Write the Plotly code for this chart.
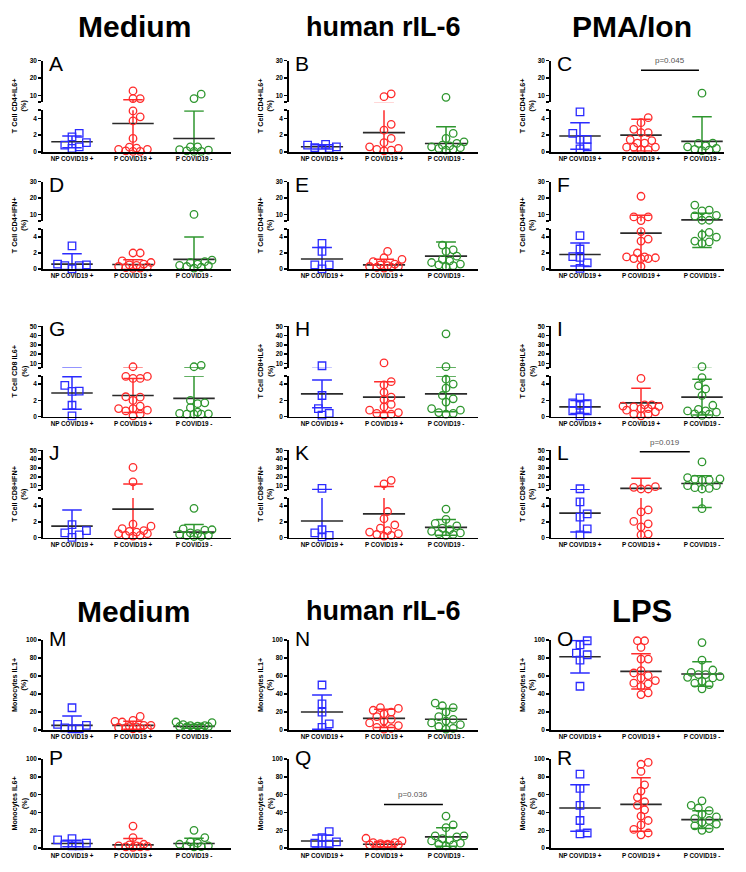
import plotly.graph_objects as go

W, H = 746, 872
GROUPS = ["NP COVID19 +", "P COVID19 +", "P COVID19 -"]
COLORS = ["#2b2bff", "#ff2b2b", "#2e962e"]
SYMBOLS = ["square-open", "circle-open", "circle-open"]
FONT = "Liberation Sans, Arial, sans-serif"

# ---------------- data ----------------
A_NP = [2.2, 1.8, 1.1, 0.8, 0.6, 0.4]
A_PP = [12.5, 8.1, 8.1, 4.9, 4.2, 3.7, 1.6, 0.55, 0.3, 0.1, 0.05, 0.05, 0.3, 0.45]
A_PN = [10.6, 8.1, 0.6, 0.25, 0.1, 0.05, 0.05, 0.2, 0.6]
A_MEAN = [1.2, 3.4, 1.6]
A_SD = [0.7, 4.0, 3.3]

B_NP = [0.9, 0.8, 0.6, 0.5, 0.4, 0.3]
B_PP = [10.8, 9.2, 3.3, 2.6, 1.6, 1.1, 0.6, 0.4, 0.2, 0.1, 0.3]
B_PN = [8.8, 2.2, 1.6, 1.2, 1.0, 0.8, 0.6, 0.5, 0.3, 0.2, 0.4, 0.7]
B_MEAN = [0.6, 2.3, 1.0]
B_SD = [0.25, 3.3, 2.0]

C_NP = [4.8, 2.2, 1.5, 1.5, 0.6, 0.35]
C_PP = [4.1, 3.5, 2.7, 2.3, 2.3, 1.35, 1.45, 1.05, 1.05, 0.55, 0.55, 0.25, 0.25, 0.55]
C_PN = [11.2, 1.05, 1.0, 0.6, 0.3, 0.15, 0.2, 0.4, 0.7]
C_MEAN = [1.9, 2.0, 1.25]
C_SD = [1.6, 1.9, 2.95]

D_NP = [2.9, 0.6, 0.4, 0.0, 0.4, 0.5]
D_PP = [2.0, 2.0, 1.0, 0.5, 0.25, 0.1, 0.05, 0.15, 0.3, 0.45, 0.6, 0.8]
D_PN = [10.1, 1.1, 0.9, 0.6, 0.4, 0.2, 0.1, 0.3, 0.45, 0.8]
D_MEAN = [0.6, 0.55, 1.2]
D_SD = [1.3, 0.6, 2.8]

E_NP = [3.2, 2.2, 0.5, 0.5, 0.0]
E_PP = [2.2, 1.4, 1.2, 0.9, 0.6, 0.4, 0.3, 0.2, 0.1, 0.2, 0.3, 0.5]
E_PN = [3.0, 2.4, 2.2, 1.6, 1.2, 1.0, 0.8, 0.6, 0.4, 0.3, 0.5]
E_MEAN = [1.25, 0.5, 1.6]
E_SD = [1.45, 0.7, 1.8]

F_NP = [4.2, 2.5, 1.55, 1.45, 0.75, 0.05]
F_PP = [21.1, 8.6, 8.6, 6.4, 4.7, 3.75, 3.5, 2.0, 1.3, 1.5, 1.3, 1.3, 1.4, 1.5, 0.3]
F_PN = [15.8, 12.7, 12.3, 9.6, 9.2, 6.6, 6.6, 4.6, 4.3, 4.0, 3.5, 3.4, 3.2]
F_MEAN = [1.8, 4.5, 6.8]
F_SD = [1.45, 5.1, 4.1]

G_NP = [3.85, 3.15, 3.1, 1.4, 0.1]
G_PP = [6.4, 4.95, 4.95, 4.7, 4.7, 2.0, 2.4, 2.45, 0.7, 1.0, 1.0, 0.8, 1.3, 0.1, 0.3]
G_PN = [6.4, 7.9, 1.7, 1.6, 2.0, 1.1, 0.4, 0.3, 0.3, 0.3, 0.35, 0.55]
G_MEAN = [2.9, 2.6, 2.25]
G_SD = [2.0, 2.1, 2.75]

H_NP = [7.5, 2.6, 1.0, 0.4, 0.2]
H_PP = [10.5, 4.3, 3.9, 3.0, 2.4, 2.1, 1.5, 1.2, 0.8, 0.5, 0.3, 0.2, 0.4]
H_PN = [42.0, 6.5, 4.6, 4.0, 3.5, 2.6, 2.2, 1.8, 1.0, 0.5, 0.3, 0.4, 0.8]
H_MEAN = [2.8, 2.4, 2.8]
H_SD = [1.7, 1.9, 2.2]

I_NP = [2.3, 1.7, 1.6, 1.4, 0.7, 0.7, 0.1]
I_PP = [4.7, 1.3, 1.45, 1.45, 1.25, 1.0, 1.0, 1.2, 0.8, 0.6, 0.3, 0.3, 0.1]
I_PN = [6.5, 4.8, 3.8, 3.4, 2.6, 1.4, 0.7, 0.55, 0.3, 0.15, 0.35, 0.7, 0.9]
I_MEAN = [1.2, 1.7, 2.4]
I_SD = [0.8, 1.8, 2.2]

J_NP = [1.65, 0.9, 0.6, 0.35, 0.05]
J_PP = [30.7, 14.4, 1.7, 1.45, 1.15, 0.8, 0.5, 0.3, 0.2, 0.3, 0.5, 0.7, 0.9]
J_PN = [3.7, 1.1, 1.0, 0.95, 0.6, 0.4, 0.25, 0.15, 0.15, 0.3, 0.5]
J_MEAN = [1.45, 3.6, 0.7]
J_SD = [2.05, 8.2, 0.95]

K_NP = [7.0, 1.0, 0.6, 0.3, 0.1]
K_PP = [16.0, 12.0, 3.3, 2.4, 1.6, 1.2, 0.9, 0.5, 0.3, 0.2, 0.4, 0.7]
K_PN = [3.6, 2.3, 1.8, 1.5, 1.2, 1.0, 0.8, 0.6, 0.4, 0.3, 0.5]
K_MEAN = [2.1, 3.0, 1.3]
K_SD = [3.6, 6.0, 1.0]

L_NP = [6.5, 4.5, 3.0, 2.6, 1.1, 0.35]
L_PP = [8.8, 6.2, 6.2, 8.1, 3.25, 3.5, 1.75, 2.05, 1.35, 0.35, 0.45]
L_PN = [36.9, 17.7, 16.5, 16.2, 17.3, 19.2, 10.0, 6.9, 6.2, 7.7, 10.0, 3.65]
L_MEAN = [3.1, 6.9, 12.5]
L_SD = [2.4, 11.6, 8.7]

M_NP = [24.8, 6.4, 5.3, 2.5, 1.5, 1.5]
M_PP = [15.2, 10.8, 9.7, 9.0, 5.3, 5.3, 4.0, 3.0, 2.5, 2.0, 1.5, 2.5, 3.5]
M_PN = [9.0, 8.3, 6.0, 5.0, 4.5, 4.0, 3.5, 3.0, 3.5, 4.0, 5.0]
M_MEAN = [5.3, 5.3, 4.2]
M_SD = [10.3, 4.4, 2.0]

N_NP = [50.0, 29.0, 20.0, 7.0, 3.0]
N_PP = [25.0, 24.0, 22.0, 20.0, 18.0, 15.0, 12.0, 10.0, 8.0, 5.0, 3.0, 2.0, 1.0]
N_PN = [30.0, 27.0, 25.0, 20.0, 15.0, 12.0, 10.0, 8.0, 6.0, 4.0, 2.0, 1.0]
N_MEAN = [20.0, 13.0, 12.0]
N_SD = [19.0, 10.0, 12.0]

O_NP = [99.0, 94.5, 83.5, 85.3, 77.6, 48.6]
O_PP = [99.0, 99.0, 91.6, 78.7, 78.7, 65.9, 63.3, 60.4, 57.8, 54.9, 52.0, 51.3, 48.4, 41.3, 39.4]
O_PN = [97.0, 77.6, 64.0, 66.6, 61.5, 61.5, 59.3, 57.8, 58.5, 54.1, 52.0, 50.5, 45.7]
O_MEAN = [81.3, 65.1, 62.2]
O_SD = [18.0, 19.5, 13.6]

P_NP = [9.3, 10.7, 5.6, 2.6, 2.6, 3.7]
P_PP = [24.8, 11.9, 4.4, 3.7, 2.5, 1.5, 1.0, 1.5, 2.0, 2.5]
P_PN = [20.0, 11.9, 7.0, 5.6, 4.4, 2.6, 1.8, 1.5, 2.6]
P_MEAN = [5.2, 3.7, 5.2]
P_SD = [3.7, 7.0, 5.9]

Q_NP = [18.5, 7.0, 11.9, 5.6, 3.7, 4.4]
Q_PP = [11.1, 8.1, 6.3, 6.3, 3.7, 2.6, 2.6, 3.7, 4.4, 2.6, 5.2]
Q_PN = [36.0, 26.0, 23.0, 12.6, 10.7, 13.7, 13.7, 8.9, 8.1, 5.6, 4.4, 2.6, 3.7]
Q_MEAN = [8.1, 4.4, 12.6]
Q_SD = [6.7, 3.0, 10.4]

R_NP = [83.0, 67.0, 48.0, 31.0, 17.0, 16.0]
R_PP = [96.0, 94.0, 86.0, 71.0, 64.0, 57.0, 52.0, 48.0, 43.0, 36.0, 31.0, 26.0, 21.0, 17.0, 15.0]
R_PN = [53.0, 48.0, 45.0, 42.0, 38.0, 35.0, 33.0, 31.0, 29.0, 27.0, 25.0, 22.0, 20.0]
R_MEAN = [45.0, 49.0, 32.0]
R_SD = [26.0, 30.0, 10.0]

# p-value brackets: (panel, from group, to group, y value, label)
PVALS = [("C", 1.0, 1.95, 24.4, "p=0.045"),
         ("L", 0.98, 1.8, 48.5, "p=0.019"),
         ("Q", 1.0, 1.95, 49.0, "p=0.036")]

YTITLES = {
    "A": "T Cell CD4+IL6+", "B": "T Cell CD4+IL6+", "C": "T Cell CD4+IL6+",
    "D": "T Cell CD4+IFN+", "E": "T Cell CD4+IFN+", "F": "T Cell CD4+IFN+",
    "G": "T Cell CD8 IL6+", "H": "T Cell CD8+IL6+", "I": "T Cell CD8+IL6+",
    "J": "T Cell CD8+IFN+", "K": "T Cell CD8+IFN+", "L": "T Cell CD8+IFN+",
    "M": "Monocytes IL1+", "N": "Monocytes IL1+", "O": "Monocytes IL1+",
    "P": "Monocytes IL6+", "Q": "Monocytes IL6+", "R": "Monocytes IL6+",
}
# header text, centre x px, centre y px, font size
HEADERS = [("Medium", 134, 23, 30), ("human rIL-6", 383, 23, 27), ("PMA/Ion", 632, 23, 30),
           ("Medium", 133, 612, 30), ("human rIL-6", 383, 612, 27), ("LPS", 642, 612, 31)]

# ---------------- layout geometry (pixels) ----------------
COLS = [dict(x0=43, x1=231, c0=72, step=61),
        dict(x0=289, x1=478, c0=322, step=62),
        dict(x0=551, x1=724, c0=580, step=61)]
ROWS = [dict(up=(57, 99), lo=(107, 149), ur=(6, 30), ut=[6, 10, 20, 30]),
        dict(up=(179, 219), lo=(227, 267), ur=(6, 30), ut=[6, 10, 20, 30]),
        dict(up=(325, 367), lo=(375, 416), ur=(5, 50), ut=[5, 10, 20, 30, 40, 50]),
        dict(up=(450, 490), lo=(498, 538), ur=(5, 50), ut=[5, 10, 20, 30, 40, 50]),
        dict(full=(641, 732), rng=(0, 100)),
        dict(full=(761, 851), rng=(0, 100))]

G_ = globals()
LETTERS = "ABCDEFGHIJKLMNOPQR"


def ypix(v, g):
    if "full" in g:
        t, b = g["full"]
        lo, hi = g["rng"]
        return b - (v - lo) / (hi - lo) * (b - t)
    lt, lb = g["lo"]
    ut, ub = g["up"]
    a, c = g["ur"]
    if v <= 5:
        return lb - v / 5 * (lb - lt)
    if v >= a:
        return ub - (v - a) / (c - a) * (ub - ut)
    return lt - (v - 5) / (a - 5) * (lt - ub)


def swarm(vals, g, step):
    """Beeswarm layout in pixel space, limited to a maximum half width."""
    D, S, HALF = 7.2, 3.6, 20.0
    order = sorted(range(len(vals)), key=lambda i: vals[i])
    placed = []
    off = [0.0] * len(vals)
    cands = [0] + [s * j for j in range(1, 30) for s in (1, -1)]
    cands = [c for c in cands if abs(c * S) <= HALF]
    for i in order:
        yp = ypix(vals[i], g)
        best, best_d = 0.0, -1.0
        for c in cands:
            xo = c * S
            dmin = min([((xo - px) ** 2 + (yp - py) ** 2) ** 0.5 for px, py in placed] or [99.0])
            if dmin >= D:
                best = xo
                break
            if dmin > best_d:
                best, best_d = xo, dmin
        placed.append((best, yp))
        off[i] = best / step
    return off


fig = go.Figure()
layout = {}
annotations = []
axis_n = [0]


def new_id():
    axis_n[0] += 1
    return "" if axis_n[0] == 1 else str(axis_n[0])


def fx(px):
    return px / W


def fy(py):
    return 1 - py / H


tickfont = dict(family=FONT, size=6.5, color="black", weight="bold")
AXLINE = dict(showline=True, linecolor="black", linewidth=1.8, showgrid=False,
              zeroline=False, ticks="outside", ticklen=3, tickwidth=1.5,
              tickcolor="black", tickfont=tickfont, fixedrange=True)

panel_axes = {}
for idx, letter in enumerate(LETTERS):
    col = COLS[idx % 3]
    rowi = idx // 3
    g = ROWS[rowi]
    xr = [(col["x0"] - col["c0"]) / col["step"], (col["x1"] - col["c0"]) / col["step"]]
    xid = new_id()
    ylid = new_id()
    yids = [ylid]
    xa = dict(AXLINE)
    xa.update(domain=[fx(col["x0"]), fx(col["x1"])], range=xr, anchor="y" + ylid,
              tickvals=[0, 1, 2], ticktext=GROUPS, ticks="",
              tickfont=dict(family=FONT, size=6.3, color="black", weight="bold"))
    layout["xaxis" + xid] = xa
    if "full" in g:
        t, b = g["full"]
        ya = dict(AXLINE)
        ya.update(domain=[fy(b), fy(t)], range=list(g["rng"]), anchor="x" + xid,
                  tickvals=[0, 20, 40, 60, 80, 100])
        layout["yaxis" + ylid] = ya
        top, bottom = t, b
    else:
        yuid = new_id()
        yids.append(yuid)
        lt, lb = g["lo"]
        ut, ub = g["up"]
        ya = dict(AXLINE)
        ya.update(domain=[fy(lb), fy(lt)], range=[0, 5], anchor="x" + xid,
                  tickvals=[0, 2, 4, 5], ticktext=["0", "2", "4", ""])
        layout["yaxis" + ylid] = ya
        yu = dict(AXLINE)
        yu.update(domain=[fy(ub), fy(ut)], range=list(g["ur"]), anchor="x" + xid,
                  tickvals=g["ut"], ticktext=[""] + [str(v) for v in g["ut"][1:]])
        layout["yaxis" + yuid] = yu
        top, bottom = ut, lb
    panel_axes[letter] = (xid, yids)

    vals = [G_[letter + "_NP"], G_[letter + "_PP"], G_[letter + "_PN"]]
    means = G_[letter + "_MEAN"]
    sds = G_[letter + "_SD"]
    for gi in range(3):
        m, s = means[gi], sds[gi]
        cw, mw = 0.16, 0.34
        ex = [gi, gi, None, gi - cw, gi + cw, None, gi - cw, gi + cw]
        ey = [m - s, m + s, None, m + s, m + s, None, m - s, m - s]
        for yid in yids:
            fig.add_trace(go.Scatter(x=ex, y=ey, mode="lines", xaxis="x" + xid,
                                     yaxis="y" + yid, hoverinfo="skip",
                                     line=dict(color=COLORS[gi], width=1.5)))
            fig.add_trace(go.Scatter(x=[gi - mw, gi + mw], y=[m, m], mode="lines",
                                     xaxis="x" + xid, yaxis="y" + yid, hoverinfo="skip",
                                     line=dict(color="#2a2a2a", width=1.6)))
        offs = swarm(vals[gi], g, col["step"])
        xs = [gi + o for o in offs]
        if "full" in g:
            parts = [(xs, vals[gi], ylid)]
        else:
            split = (5 + g["ur"][0]) / 2
            lo_i = [i for i, v in enumerate(vals[gi]) if v <= split]
            up_i = [i for i, v in enumerate(vals[gi]) if v > split]
            parts = [([xs[i] for i in lo_i], [min(vals[gi][i], 5) for i in lo_i], ylid),
                     ([xs[i] for i in up_i], [max(vals[gi][i], g["ur"][0]) for i in up_i], yids[1])]
        for px_, py_, yid in parts:
            if not px_:
                continue
            fig.add_trace(go.Scatter(x=px_, y=py_, mode="markers", xaxis="x" + xid,
                                     yaxis="y" + yid, cliponaxis=False, hoverinfo="skip",
                                     marker=dict(symbol=SYMBOLS[gi], size=7.5, color=COLORS[gi],
                                                 line=dict(width=1.3, color=COLORS[gi]))))

    # panel letter
    annotations.append(dict(text=letter, xref="paper", yref="paper",
                            x=fx(col["x0"] + 4), y=fy(top - (11 if rowi < 4 else 15)),
                            xanchor="left", yanchor="top", showarrow=False,
                            font=dict(family=FONT, size=21, color="black")))
    # y title
    annotations.append(dict(text=YTITLES[letter] + "<br>(%)", xref="paper", yref="paper",
                            x=fx(col["x0"] - 24), y=fy((top + bottom) / 2),
                            xanchor="center", yanchor="middle", textangle=-90,
                            showarrow=False, align="center",
                            font=dict(family=FONT, size=7.2, color="black", weight="bold")))

# p-value brackets
for letter, g0, g1, yv, label in PVALS:
    xid, yids = panel_axes[letter]
    yid = yids[-1]
    fig.add_trace(go.Scatter(x=[g0, g1], y=[yv, yv], mode="lines", xaxis="x" + xid,
                             yaxis="y" + yid, hoverinfo="skip",
                             line=dict(color="black", width=1.5)))
    annotations.append(dict(text=label, xref="x" + xid, yref="y" + yid,
                            x=(g0 + g1) / 2, y=yv, yshift=3, xanchor="center",
                            yanchor="bottom", showarrow=False,
                            font=dict(family=FONT, size=8, color="#555555")))

# group headers
for text, hx, hy, hs in HEADERS:
    annotations.append(dict(text=text, xref="paper", yref="paper",
                            x=fx(hx), y=fy(hy), xanchor="center",
                            yanchor="middle", showarrow=False,
                            font=dict(family=FONT, size=hs, color="black", weight="bold")))

layout.update(width=W, height=H, autosize=False,
              margin=dict(l=0, r=0, t=0, b=0),
              paper_bgcolor="white", plot_bgcolor="white",
              showlegend=False, annotations=annotations)
fig.update_layout(**layout)
fig.write_html("out.html", config={"displayModeBar": False, "staticPlot": True},
               post_script="document.body.style.margin='0';document.body.style.overflow='hidden';")
